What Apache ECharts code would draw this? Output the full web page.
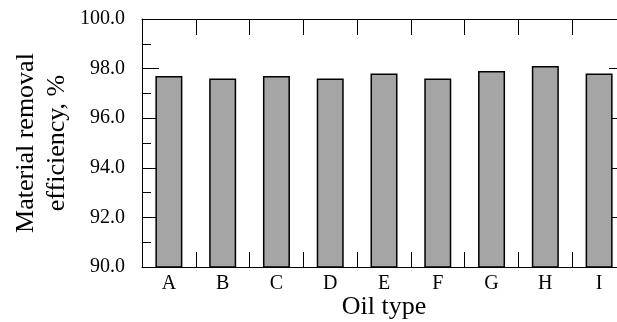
<!DOCTYPE html>
<html>
<head>
<meta charset="utf-8">
<script src="https://cdn.jsdelivr.net/npm/echarts@6/dist/echarts.min.js"></script>
<style>
  html, body { margin: 0; padding: 0; background: #fff; }
  #chart { width: 617px; height: 322px; }
</style>
</head>
<body>
<div id="chart"></div>
<script>
// oil types and removal efficiency (%)
var oilTypes = ['A', 'B', 'C', 'D', 'E', 'F', 'G', 'H', 'I'];
var efficiency = [97.7, 97.6, 97.7, 97.6, 97.8, 97.6, 97.9, 98.1, 97.8];
var yMin = 90, yMax = 100, yStep = 2;

var serif = "'Liberation Serif', 'Times New Roman', serif";

var chart = echarts.init(document.getElementById('chart'));

var lineStyle = { color: '#000', width: 1 };

chart.setOption({
    animation: false,
    // the plot runs a bit past the right edge of the picture, like the original
    grid: {
        left: 142, top: 19, width: 484, height: 250,
        outerBounds: { left: 0, top: 0, right: -12, bottom: -3 }
    },
    xAxis: [
        {
            type: 'category',
            position: 'bottom',
            data: oilTypes,
            name: 'Oil type',
            nameLocation: 'middle',
            nameGap: 27,
            nameMoveOverlap: false,
            nameTextStyle: { fontFamily: serif, fontSize: 26, color: '#000' },
            axisLine: { show: true, onZero: false, lineStyle: lineStyle },
            axisTick: { show: true, inside: true, length: 15, interval: 0, alignWithLabel: false, lineStyle: lineStyle },
            axisLabel: { fontFamily: serif, fontSize: 20, color: '#000', margin: 7, interval: 0 }
        },
        {
            type: 'category',
            position: 'top',
            data: oilTypes,
            axisLine: { show: true, onZero: false, lineStyle: lineStyle },
            axisTick: { show: true, inside: true, length: 16, interval: 0, alignWithLabel: false, lineStyle: lineStyle },
            axisLabel: { show: false }
        }
    ],
    yAxis: [
        {
            type: 'value',
            position: 'left',
            min: yMin,
            max: yMax,
            interval: yStep,
            name: 'Material removal\nefficiency, %',
            nameLocation: 'middle',
            nameGap: 69,
            nameMoveOverlap: false,
            nameTextStyle: { fontFamily: serif, fontSize: 26, color: '#000', lineHeight: 31, align: 'center' },
            axisLine: { show: true, onZero: false, lineStyle: lineStyle },
            axisTick: { show: true, inside: true, length: 17, lineStyle: lineStyle },
            minorTick: { show: true, splitNumber: 2, length: 9, lineStyle: lineStyle },
            splitLine: { show: false },
            axisLabel: {
                fontFamily: serif, fontSize: 20, color: '#000', margin: 17,
                formatter: function (v) { return v.toFixed(1); }
            }
        },
        {
            type: 'value',
            position: 'right',
            min: yMin,
            max: yMax,
            interval: yStep,
            axisLine: { show: true, onZero: false, lineStyle: lineStyle },
            axisTick: { show: true, inside: true, length: 17, lineStyle: lineStyle },
            minorTick: { show: true, splitNumber: 2, length: 9, lineStyle: lineStyle },
            splitLine: { show: false },
            axisLabel: { show: false }
        }
    ],
    series: [
        {
            type: 'bar',
            data: efficiency,
            barWidth: 27,
            itemStyle: { color: '#a5a5a5', borderColor: '#000', borderWidth: 1.5 }
        }
    ]
});
</script>
</body>
</html>
